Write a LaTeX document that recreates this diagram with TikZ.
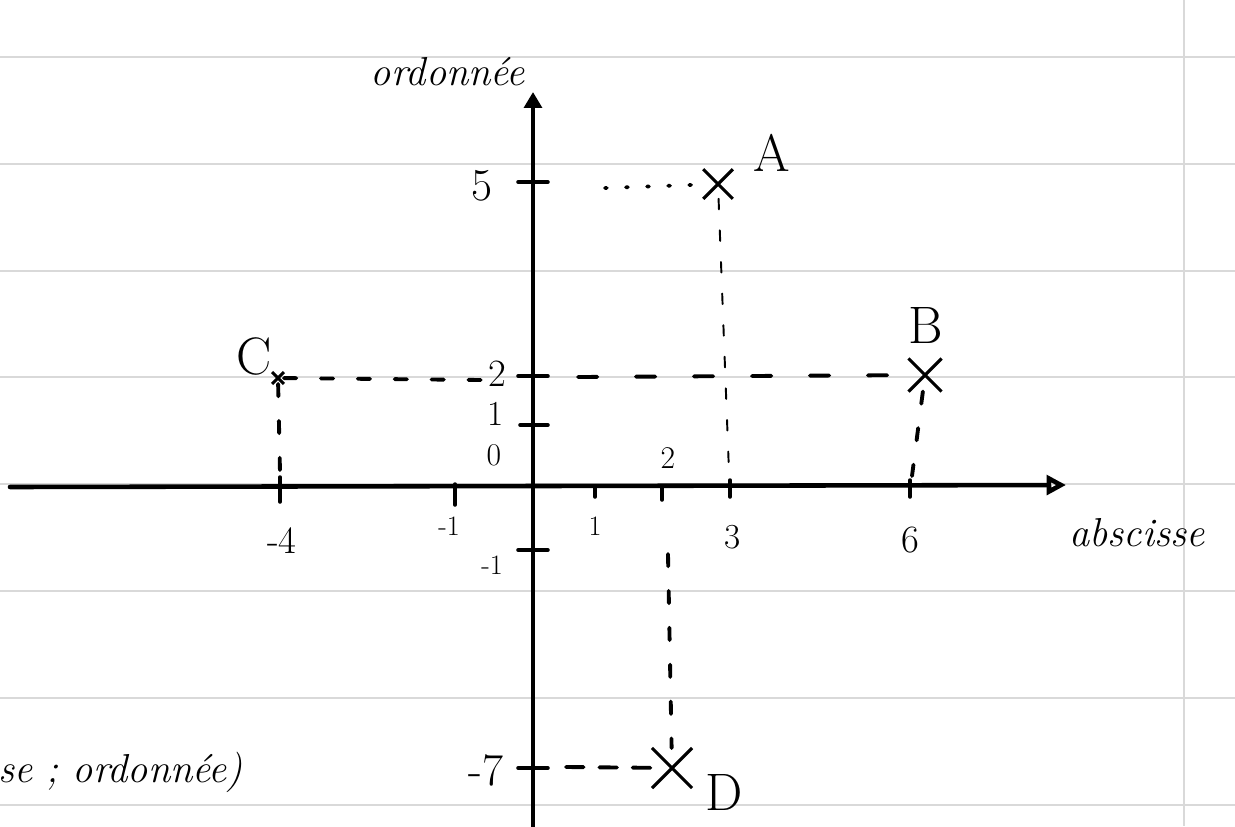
\documentclass[tikz,border=0pt]{standalone}
\usetikzlibrary{positioning}
\usetikzlibrary{arrows.meta}
\usetikzlibrary{shapes.misc}
\colorlet{mypaper}{black!15}
\tikzstyle{myline}=[mypaper,line width=1.2pt]
\tikzstyle{myaxis}=[black,line width=2.6pt,line cap=round]
\tikzstyle{mytick}=[black,line width=2pt,line cap=round]
\tikzstyle{mycross}=[draw,cross out,line width=1.8pt,minimum size=#1,inner sep=0pt]
\tikzstyle{myproj}=[black,line width=2.2pt,line cap=round,dash pattern=on 7pt off 14pt]
\tikzstyle{mythinproj}=[black,line width=1.1pt,line cap=round,dash pattern=on 6pt off 12pt]
\tikzstyle{myword}=[inner sep=1pt,font=\fontsize{23}{26}\selectfont\itshape]
\tikzstyle{mynum}=[inner sep=1pt,font=\fontsize{#1}{#1}\selectfont]
\tikzstyle{mypoint}=[inner sep=1pt,font=\fontsize{30}{32}\selectfont]

\begin{document}
\begin{tikzpicture}[x=0.02cm,y=-0.02cm]
  \useasboundingbox[fill=white] (0,0) rectangle (1235,826);

  % PAPER
  \foreach \y in {57,164,271,377,484,591,698,805}
    \draw[myline] (0,\y) -- (1235,\y);
  \draw[myline] (1184,0) -- (1184,826);

  % AXES
  \coordinate (xstart) at (10,487);
  \coordinate (xend) at (1066,485);
  \coordinate (ystart) at (533,830);
  \coordinate (yend) at (533,92);
  \draw[myaxis,-{Triangle[open,length=11pt,width=11pt]}] (xstart) -- (xend);
  \draw[myaxis,-{Triangle[length=9pt,width=10pt]}] (ystart) -- (yend);
  \node[myword] (abs) at (1137,533) {abscisse};
  \node[myword] (ord) at (448,72) {ordonnée};
  \node[myword,anchor=west] (pair) at (-4,772) {se ; ordonnée)};

  % TICKS
  \foreach \x/\a/\b in {280/477/502,455/484/505,595/488/497,662/486/500,730/480/497,910/480/497}
    \draw[mytick] (\x,\a) -- (\x,\b);
  \foreach \y/\a in {182/518,376/518,425/520,550/518,768/518}
    \draw[mytick] (\a,\y) -- (548,\y);

  % NUMBERS
  \node[mynum=26] (y5) at (482,186) {5};
  \node[mynum=22] (y2) at (497,374) {2};
  \node[mynum=20] (y1) at (496,414) {1};
  \node[mynum=18] (y0) at (494,455) {0};
  \node[mynum=16] (ym1) at (492,565) {-1};
  \node[mynum=26] (ym7) at (486,770) {-7};
  \node[mynum=22] (xm4) at (282,541) {-4};
  \node[mynum=16] (xm1) at (449,526) {-1};
  \node[mynum=16] (x1) at (595,526) {1};
  \node[mynum=18] (x2) at (668,458) {2};
  \node[mynum=20] (x3) at (733,537) {3};
  \node[mynum=22] (x6) at (910,540) {6};

  % POINTS
  \node[mycross=15pt] (A) at (718,184) {};
  \node[mycross=17pt] (B) at (925,375) {};
  \node[mycross=5pt] (C) at (278,378) {};
  \node[mycross=21pt] (D) at (672,768) {};
  \node[mypoint] (Alab) at (772,153) {A};
  \node[mypoint] (Blab) at (926,325) {B};
  \node[mypoint] (Clab) at (254,356) {C};
  \node[mypoint] (Dlab) at (724,792) {D};

  % PROJECTIONS
  \coordinate (Ax) at (729,472);
  \coordinate (Ay) at (605,188);
  \coordinate (Bx) at (912,476);
  \coordinate (By) at (578,377);
  \coordinate (Cx) at (280,472);
  \coordinate (Cy) at (482,380);
  \coordinate (Dx) at (668,554);
  \coordinate (Dy) at (566,767);
  \draw[mythinproj] (A) -- (Ax);
  \draw[myproj,dash pattern=on 1pt off 11pt] (Ay) -- (A);
  \draw[myproj,dash pattern=on 11pt off 22pt] (By) -- (B);
  \draw[myproj] (B) -- (Bx);
  \draw[myproj] (C) -- (Cy);
  \draw[myproj] (C) -- (Cx);
  \draw[myproj] (Dx) -- (D);
  \draw[myproj,dash pattern=on 10pt off 9pt] (Dy) -- (D);
\end{tikzpicture}
\end{document}
